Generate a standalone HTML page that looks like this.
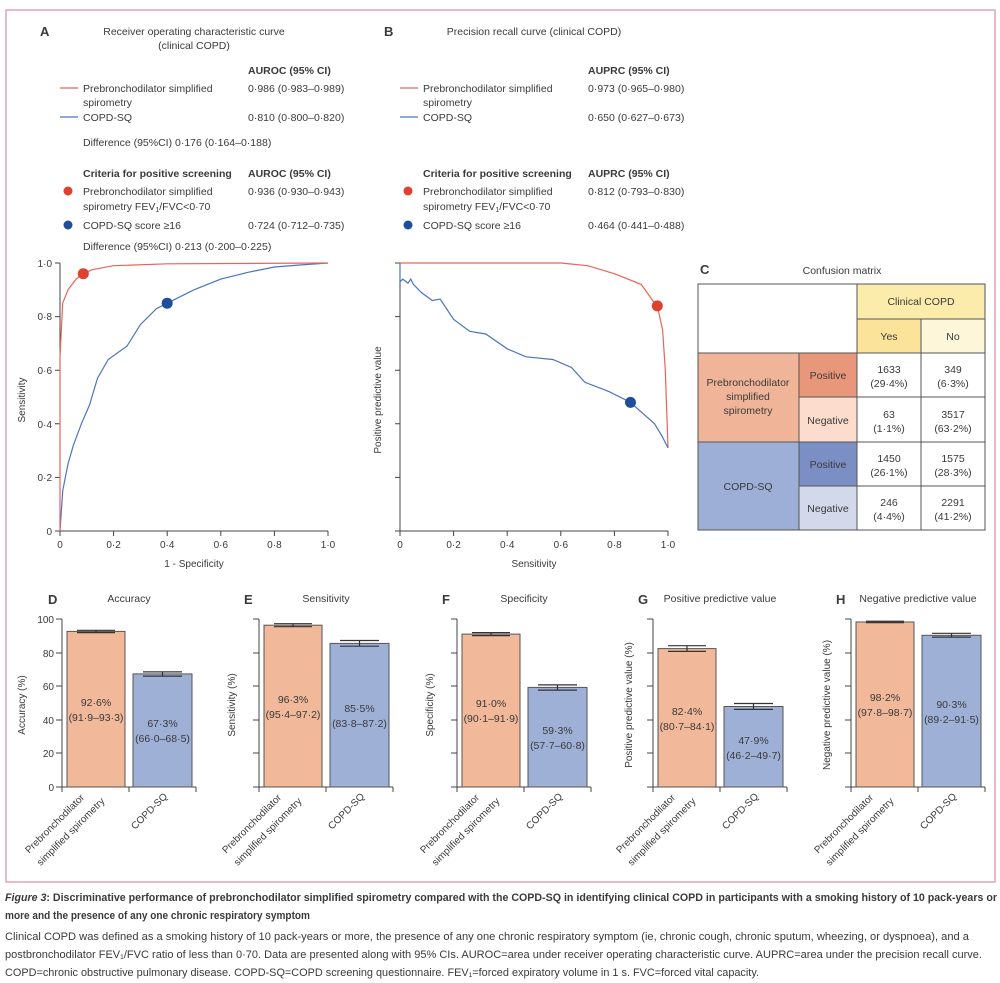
<!DOCTYPE html>
<html><head><meta charset="utf-8"><style>
html,body{margin:0;padding:0;background:#fff;}
svg{display:block;font-family:"Liberation Sans",sans-serif;}
text{fill:#3a3a3a;}
</style></head><body>
<svg width="1000" height="983" viewBox="0 0 1000 983" xmlns="http://www.w3.org/2000/svg">
<rect x="6" y="10" width="989" height="872" fill="none" stroke="#e2a3b5" stroke-width="1.5"/>

<!-- Panel A header -->
<g font-size="10.5">
<text x="40" y="36" font-size="13" font-weight="bold" fill="#222">A</text>
<text x="194" y="35" text-anchor="middle">Receiver operating characteristic curve</text>
<text x="194" y="49" text-anchor="middle">(clinical COPD)</text>
<text x="248" y="74" font-weight="bold">AUROC (95% CI)</text>
<line x1="60" y1="88" x2="78" y2="88" stroke="#e8655a" stroke-width="1.2"/>
<text x="83" y="92">Prebronchodilator simplified</text>
<text x="83" y="106">spirometry</text>
<text x="248" y="92">0·986 (0·983–0·989)</text>
<line x1="60" y1="117" x2="78" y2="117" stroke="#4b74c0" stroke-width="1.2"/>
<text x="83" y="121">COPD-SQ</text>
<text x="248" y="121">0·810 (0·800–0·820)</text>
<text x="83" y="146">Difference (95%CI) 0·176 (0·164–0·188)</text>
<text x="83" y="177" font-weight="bold">Criteria for positive screening</text>
<text x="248" y="177" font-weight="bold">AUROC (95% CI)</text>
<circle cx="68" cy="191" r="4.5" fill="#e0402e"/>
<text x="83" y="195">Prebronchodilator simplified</text>
<text x="83" y="210">spirometry FEV<tspan font-size="7" dy="2">1</tspan><tspan dy="-2">/FVC&lt;0·70</tspan></text>
<text x="248" y="195">0·936 (0·930–0·943)</text>
<circle cx="68" cy="225" r="4.5" fill="#1f4e9c"/>
<text x="83" y="229">COPD-SQ  score ≥16</text>
<text x="248" y="229">0·724 (0·712–0·735)</text>
<text x="83" y="250">Difference (95%CI) 0·213 (0·200–0·225)</text>
</g>

<!-- Panel B header -->
<g font-size="10.5">
<text x="384" y="36" font-size="13" font-weight="bold" fill="#222">B</text>
<text x="534" y="35" text-anchor="middle">Precision recall curve (clinical COPD)</text>
<text x="588" y="74" font-weight="bold">AUPRC (95% CI)</text>
<line x1="400" y1="88" x2="418" y2="88" stroke="#e8655a" stroke-width="1.2"/>
<text x="423" y="92">Prebronchodilator simplified</text>
<text x="423" y="106">spirometry</text>
<text x="588" y="92">0·973 (0·965–0·980)</text>
<line x1="400" y1="117" x2="418" y2="117" stroke="#4b74c0" stroke-width="1.2"/>
<text x="423" y="121">COPD-SQ</text>
<text x="588" y="121">0·650 (0·627–0·673)</text>
<text x="423" y="177" font-weight="bold">Criteria for positive screening</text>
<text x="588" y="177" font-weight="bold">AUPRC (95% CI)</text>
<circle cx="408" cy="191" r="4.5" fill="#e0402e"/>
<text x="423" y="195">Prebronchodilator simplified</text>
<text x="423" y="210">spirometry FEV<tspan font-size="7" dy="2">1</tspan><tspan dy="-2">/FVC&lt;0·70</tspan></text>
<text x="588" y="195">0·812 (0·793–0·830)</text>
<circle cx="408" cy="225" r="4.5" fill="#1f4e9c"/>
<text x="423" y="229">COPD-SQ  score ≥16</text>
<text x="588" y="229">0·464 (0·441–0·488)</text>
</g>

<!-- ROC axes -->
<g stroke="#444" stroke-width="1" fill="none">
<path d="M60 263V531H328"/>
<path d="M55 263H60M55 316.6H60M55 370.2H60M55 423.8H60M55 477.4H60M55 531H60"/>
<path d="M60 531V536M113.6 531V536M167.2 531V536M220.8 531V536M274.4 531V536M328 531V536"/>
</g>
<g font-size="10" text-anchor="end">
<text x="52" y="267">1·0</text><text x="52" y="320">0·8</text><text x="52" y="374">0·6</text>
<text x="52" y="428">0·4</text><text x="52" y="481">0·2</text><text x="52" y="535">0</text>
</g>
<g font-size="10" text-anchor="middle">
<text x="60" y="548">0</text><text x="113.6" y="548">0·2</text><text x="167.2" y="548">0·4</text>
<text x="220.8" y="548">0·6</text><text x="274.4" y="548">0·8</text><text x="328" y="548">1·0</text>
<text x="194" y="567">1 - Specificity</text>
<text transform="translate(25,400) rotate(-90)">Sensitivity</text>
</g>
<polyline fill="none" stroke="#4b74c0" stroke-width="1.2" points="60,531 62.7,490.8 68,464 73.4,445.2 81.4,423.8 89.5,405 97.5,378.2 108.2,359.5 127,346.1 140.4,324.6 156.5,308.6 167.2,303.2 194,289.8 220.8,279.1 247.6,272.4 274.4,267 301.2,264.9 328,263"/>
<polyline fill="none" stroke="#e8655a" stroke-width="1.2" points="60,531 60,356.8 62.7,303.2 68,289.8 76.1,279.1 83.3,273.7 92.2,269.7 113.6,265.7 167.2,263.8 328,263"/>
<circle cx="83.3" cy="273.7" r="5.5" fill="#e0402e"/>
<circle cx="167.2" cy="303.2" r="5.5" fill="#1f4e9c"/>

<!-- PR axes -->
<g stroke="#444" stroke-width="1" fill="none">
<path d="M400 263V531H668"/>
<path d="M395 263H400M395 316.6H400M395 370.2H400M395 423.8H400M395 477.4H400M395 531H400"/>
<path d="M400 531V536M453.6 531V536M507.2 531V536M560.8 531V536M614.4 531V536M668 531V536"/>
</g>
<g font-size="10" text-anchor="middle">
<text x="400" y="548">0</text><text x="453.6" y="548">0·2</text><text x="507.2" y="548">0·4</text>
<text x="560.8" y="548">0·6</text><text x="614.4" y="548">0·8</text><text x="668" y="548">1·0</text>
<text x="534" y="567">Sensitivity</text>
<text transform="translate(381,400) rotate(-90)">Positive predictive value</text>
</g>
<polyline fill="none" stroke="#e8655a" stroke-width="1.2" points="400,263 560.8,263 587.6,265.7 614.4,273.7 641.2,284.4 654.6,303.2 657.3,305.9 662.6,330 665.3,370.2 668,447.9"/>
<polyline fill="none" stroke="#4b74c0" stroke-width="1.2" points="400,263 400,281.8 402.7,279.1 408,283.1 410.7,279.1 413.4,284.4 421.4,292.5 432.2,300.5 440.2,299.2 453.6,319.3 469.7,331.3 485.8,334 507.2,348.8 526,356.8 552.8,359.5 571.5,367.5 584.9,382.3 609,391.6 630.5,402.4 654.6,423.8 662.6,437.2 668,447.9"/>
<circle cx="657.3" cy="305.9" r="5.5" fill="#e0402e"/>
<circle cx="630.5" cy="402.4" r="5.5" fill="#1f4e9c"/>

<!-- Confusion matrix -->
<text x="700" y="274" font-size="13" font-weight="bold" fill="#222">C</text>
<text x="842" y="274" font-size="10.5" text-anchor="middle">Confusion matrix</text>
<g stroke="#555" stroke-width="1">
<rect x="698" y="284" width="159" height="69" fill="#fff"/>
<rect x="857" y="284" width="128" height="35" fill="#fcecac"/>
<rect x="857" y="319" width="64" height="34" fill="#fbe49a"/>
<rect x="921" y="319" width="64" height="34" fill="#fdf6d8"/>
<rect x="698" y="353" width="101" height="89" fill="#f0b598"/>
<rect x="799" y="353" width="58" height="44" fill="#e9977b"/>
<rect x="799" y="397" width="58" height="45" fill="#fbdccd"/>
<rect x="698" y="442" width="101" height="88" fill="#9eafd7"/>
<rect x="799" y="442" width="58" height="44" fill="#7b8fc5"/>
<rect x="799" y="486" width="58" height="44" fill="#d3d9eb"/>
<rect x="857" y="353" width="64" height="44" fill="#fff"/>
<rect x="921" y="353" width="64" height="44" fill="#fff"/>
<rect x="857" y="397" width="64" height="45" fill="#fff"/>
<rect x="921" y="397" width="64" height="45" fill="#fff"/>
<rect x="857" y="442" width="64" height="44" fill="#fff"/>
<rect x="921" y="442" width="64" height="44" fill="#fff"/>
<rect x="857" y="486" width="64" height="44" fill="#fff"/>
<rect x="921" y="486" width="64" height="44" fill="#fff"/>
</g>
<g font-size="10.5" text-anchor="middle">
<text x="921" y="305">Clinical COPD</text>
<text x="889" y="340">Yes</text><text x="953" y="340">No</text>
<text x="748" y="386">Prebronchodilator</text>
<text x="748" y="400">simplified</text>
<text x="748" y="414">spirometry</text>
<text x="828" y="379">Positive</text>
<text x="828" y="424">Negative</text>
<text x="748" y="490">COPD-SQ</text>
<text x="828" y="468">Positive</text>
<text x="828" y="512">Negative</text>
<text x="889" y="373">1633</text><text x="889" y="387">(29·4%)</text>
<text x="953" y="373">349</text><text x="953" y="387">(6·3%)</text>
<text x="889" y="418">63</text><text x="889" y="432">(1·1%)</text>
<text x="953" y="418">3517</text><text x="953" y="432">(63·2%)</text>
<text x="889" y="462">1450</text><text x="889" y="476">(26·1%)</text>
<text x="953" y="462">1575</text><text x="953" y="476">(28·3%)</text>
<text x="889" y="506">246</text><text x="889" y="520">(4·4%)</text>
<text x="953" y="506">2291</text><text x="953" y="520">(41·2%)</text>
</g>

<!-- Bar panels -->
<defs>
<g id="axes">
<path d="M0 619V787H134M-6 619H0M-6 653H0M-6 686H0M-6 720H0M-6 753H0M-6 787H0M0 787V792M67 787V792M134 787V792" stroke="#444" fill="none" stroke-width="1"/>
</g>
</defs>

<g font-size="10.5">
<g transform="translate(62,0)">
<use href="#axes"/>
<rect x="5" y="631.4" width="58" height="155.6" fill="#f1b899" stroke="#555"/>
<rect x="71" y="673.9" width="59" height="113.1" fill="#9fb0d7" stroke="#555"/>
<path d="M15 632.6H53M15 630.3H53M34 632.6V630.3M81 676.1H120M81 671.9H120M100.5 676.1V671.9" stroke="#333" stroke-width="1.2"/>
<text x="34" y="706" text-anchor="middle">92·6%</text><text x="34" y="721" text-anchor="middle">(91·9–93·3)</text>
<text x="100.5" y="727" text-anchor="middle">67·3%</text><text x="100.5" y="742" text-anchor="middle">(66·0–68·5)</text>
<text x="-14" y="604" font-size="13" font-weight="bold" fill="#222">D</text>
<text x="67" y="602" text-anchor="middle">Accuracy</text>
<g font-size="10" text-anchor="end"><text x="-8" y="623">100</text><text x="-8" y="657">80</text><text x="-8" y="690">60</text><text x="-8" y="724">40</text><text x="-8" y="757">20</text><text x="-8" y="791">0</text></g>
<text transform="translate(-37,705) rotate(-90)" text-anchor="middle" font-size="10">Accuracy (%)</text>
</g>
<g transform="translate(259,0)">
<use href="#axes"/>
<rect x="5" y="625.2" width="58" height="161.8" fill="#f1b899" stroke="#555"/>
<rect x="71" y="643.4" width="59" height="143.6" fill="#9fb0d7" stroke="#555"/>
<path d="M15 626.7H53M15 623.7H53M34 626.7V623.7M81 646.2H120M81 640.5H120M100.5 646.2V640.5" stroke="#333" stroke-width="1.2"/>
<text x="34" y="703" text-anchor="middle">96·3%</text><text x="34" y="718" text-anchor="middle">(95·4–97·2)</text>
<text x="100.5" y="712" text-anchor="middle">85·5%</text><text x="100.5" y="727" text-anchor="middle">(83·8–87·2)</text>
<text x="-15" y="604" font-size="13" font-weight="bold" fill="#222">E</text>
<text x="67" y="602" text-anchor="middle">Sensitivity</text>
<text transform="translate(-24,705) rotate(-90)" text-anchor="middle" font-size="10">Sensitivity (%)</text>
</g>
<g transform="translate(457,0)">
<use href="#axes"/>
<rect x="5" y="634.1" width="58" height="152.9" fill="#f1b899" stroke="#555"/>
<rect x="71" y="687.4" width="59" height="99.6" fill="#9fb0d7" stroke="#555"/>
<path d="M15 635.6H53M15 632.6H53M34 635.6V632.6M81 690.1H120M81 684.9H120M100.5 690.1V684.9" stroke="#333" stroke-width="1.2"/>
<text x="34" y="707" text-anchor="middle">91·0%</text><text x="34" y="722" text-anchor="middle">(90·1–91·9)</text>
<text x="100.5" y="734" text-anchor="middle">59·3%</text><text x="100.5" y="749" text-anchor="middle">(57·7–60·8)</text>
<text x="-15" y="604" font-size="13" font-weight="bold" fill="#222">F</text>
<text x="67" y="602" text-anchor="middle">Specificity</text>
<text transform="translate(-24,705) rotate(-90)" text-anchor="middle" font-size="10">Specificity (%)</text>
</g>
<g transform="translate(653,0)">
<use href="#axes"/>
<rect x="5" y="648.6" width="58" height="138.4" fill="#f1b899" stroke="#555"/>
<rect x="71" y="706.5" width="59" height="80.5" fill="#9fb0d7" stroke="#555"/>
<path d="M15 651.4H53M15 645.7H53M34 651.4V645.7M81 709.4H120M81 703.5H120M100.5 709.4V703.5" stroke="#333" stroke-width="1.2"/>
<text x="34" y="715" text-anchor="middle">82·4%</text><text x="34" y="730" text-anchor="middle">(80·7–84·1)</text>
<text x="100.5" y="744" text-anchor="middle">47·9%</text><text x="100.5" y="759" text-anchor="middle">(46·2–49·7)</text>
<text x="-15" y="604" font-size="13" font-weight="bold" fill="#222">G</text>
<text x="67" y="602" text-anchor="middle">Positive predictive value</text>
<text transform="translate(-21,705) rotate(-90)" text-anchor="middle" font-size="10">Positive predictive value (%)</text>
</g>
<g transform="translate(851,0)">
<use href="#axes"/>
<rect x="5" y="622" width="58" height="165" fill="#f1b899" stroke="#555"/>
<rect x="71" y="635.3" width="59" height="151.7" fill="#9fb0d7" stroke="#555"/>
<path d="M15 622.7H53M15 621.2H53M34 622.7V621.2M81 637.1H120M81 633.3H120M100.5 637.1V633.3" stroke="#333" stroke-width="1.2"/>
<text x="34" y="701" text-anchor="middle">98·2%</text><text x="34" y="716" text-anchor="middle">(97·8–98·7)</text>
<text x="100.5" y="708" text-anchor="middle">90·3%</text><text x="100.5" y="723" text-anchor="middle">(89·2–91·5)</text>
<text x="-15" y="604" font-size="13" font-weight="bold" fill="#222">H</text>
<text x="67" y="602" text-anchor="middle">Negative predictive value</text>
<text transform="translate(-21,705) rotate(-90)" text-anchor="middle" font-size="10">Negative predictive value (%)</text>
</g>
</g>

<g font-size="10" text-anchor="middle">
<text transform="translate(57,826) rotate(-45)">Prebronchodilator</text>
<text transform="translate(73,834) rotate(-45)">simplified spirometry</text>
<text transform="translate(254,826) rotate(-45)">Prebronchodilator</text>
<text transform="translate(270,834) rotate(-45)">simplified spirometry</text>
<text transform="translate(452,826) rotate(-45)">Prebronchodilator</text>
<text transform="translate(468,834) rotate(-45)">simplified spirometry</text>
<text transform="translate(648,826) rotate(-45)">Prebronchodilator</text>
<text transform="translate(664,834) rotate(-45)">simplified spirometry</text>
<text transform="translate(846,826) rotate(-45)">Prebronchodilator</text>
<text transform="translate(862,834) rotate(-45)">simplified spirometry</text>
</g>
<g font-size="10" text-anchor="end">
<text transform="translate(168,797) rotate(-45)">COPD-SQ</text>
<text transform="translate(365,797) rotate(-45)">COPD-SQ</text>
<text transform="translate(563,797) rotate(-45)">COPD-SQ</text>
<text transform="translate(759,797) rotate(-45)">COPD-SQ</text>
<text transform="translate(957,797) rotate(-45)">COPD-SQ</text>
</g>

<g font-size="11" fill="#222">
<text x="5" y="901" font-weight="bold" textLength="992" lengthAdjust="spacingAndGlyphs"><tspan font-style="italic">Figure 3</tspan>: Discriminative performance of prebronchodilator simplified spirometry compared with the COPD-SQ in identifying clinical COPD in participants with a smoking history of 10 pack-years or</text>
<text x="5" y="919" font-weight="bold" textLength="305" lengthAdjust="spacingAndGlyphs">more and the presence of any one chronic respiratory symptom</text>
<text x="5" y="940" textLength="964" lengthAdjust="spacingAndGlyphs">Clinical COPD was defined as a smoking history of 10 pack-years or more, the presence of any one chronic respiratory symptom (ie, chronic cough, chronic sputum, wheezing, or dyspnoea), and a</text>
<text x="5" y="958" textLength="977" lengthAdjust="spacingAndGlyphs">postbronchodilator FEV₁/FVC ratio of less than 0·70. Data are presented along with 95% CIs. AUROC=area under receiver operating characteristic curve. AUPRC=area under the precision recall curve.</text>
<text x="5" y="976" textLength="754" lengthAdjust="spacingAndGlyphs">COPD=chronic obstructive pulmonary disease. COPD-SQ=COPD screening questionnaire. FEV₁=forced expiratory volume in 1 s. FVC=forced vital capacity.</text>
</g>
</svg>
</body></html>
